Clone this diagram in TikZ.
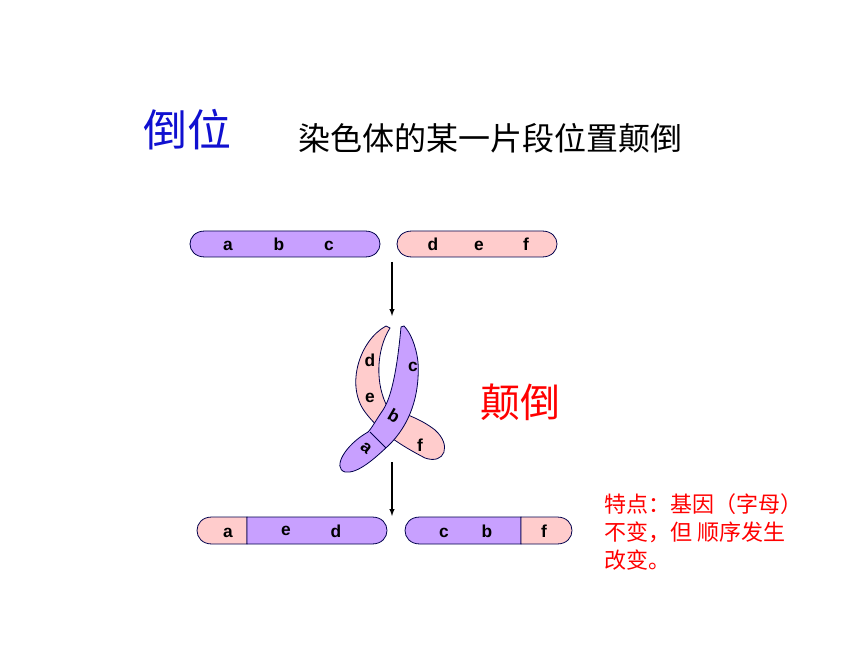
\documentclass[tikz,border=0pt]{standalone}
\usepackage{fontspec}
\setmainfont{Liberation Sans}
\newfontfamily\cjk{Noto Sans CJK SC}
\usetikzlibrary{shapes.misc}
\definecolor{pur}{HTML}{C8A0FF}
\definecolor{pnk}{HTML}{FFCCCC}
\definecolor{ttl}{HTML}{1010D0}
\begin{document}
\begin{tikzpicture}[x=0.75pt,y=-0.75pt,
  bar/.style={draw=black!70!blue,line width=0.6pt},
  let/.style={font=\bfseries\fontsize{13}{13}\selectfont,inner sep=0pt},
  arr/.style={-latex,line width=0.8pt}]
\useasboundingbox (0,0) rectangle (860,645);
% title
\node[ttl,font=\cjk\fontsize{33}{33}\selectfont] (t1) at (187,130) {倒位};
\node[font=\cjk\fontsize{24}{24}\selectfont] (t2) at (490,138) {染色体的某一片段位置颠倒};
\node[red,font=\cjk\fontsize{30}{30}\selectfont] (t3) at (520,402) {颠倒};
\node[red,font=\cjk\fontsize{16.5}{21}\selectfont,align=left,anchor=north west,inner sep=0pt] (t4) at (604,493) {特点：基因（字母）\\不变，但 顺序发生\\改变。};
% top bars
\path[bar,fill=pur] (205,231) -- (365,231) .. controls (385,231) and (385,257) .. (365,257) -- (205,257) .. controls (185,257) and (185,231) .. (205,231) -- cycle;
\path[bar,fill=pnk] (412,231) -- (542,231) .. controls (562,231) and (562,257) .. (542,257) -- (412,257) .. controls (392,257) and (392,231) .. (412,231) -- cycle;
\node[let] (la) at (228,246) {a};
\node[let] (lb) at (279,244) {b};
\node[let] (lc) at (329,246) {c};
\node[let] (ld) at (433,244) {d};
\node[let] (le) at (479,246) {e};
\node[let] (lf) at (526,244) {f};
% arrows
\coordinate (a1s) at (392,262); \coordinate (a1e) at (392,316);
\coordinate (a2s) at (392,462); \coordinate (a2e) at (392,516);
\draw[arr] (a1s) -- (a1e);
\draw[arr] (a2s) -- (a2e);
% loop: pink band
\path[bar,fill=pnk] (386,326) .. controls (360,340) and (345,385) .. (365,412)
  .. controls (380,432) and (400,445) .. (425,458)
  .. controls (445,465) and (452,445) .. (435,430)
  .. controls (420,418) and (400,412) .. (388,408)
  .. controls (375,385) and (376,350) .. (390,328) -- cycle;
% purple band
\path[bar,fill=pur] (401,327) .. controls (398,360) and (393,395) .. (383,410)
  .. controls (376,420) and (372,428) .. (368,432)
  .. controls (345,445) and (332,468) .. (345,472)
  .. controls (358,474) and (375,458) .. (388,446)
  .. controls (410,425) and (420,395) .. (418,362)
  .. controls (416,345) and (410,332) .. (404,326) -- cycle;
\draw[bar] (370,432) -- (386,448);
\node[let] (m1) at (370,360) {d};
\node[let] (m2) at (370,398) {e};
\node[let] (m3) at (413,367) {c};
\node[let,rotate=-30] (m4) at (394,416) {b};
\node[let,rotate=-40] (m5) at (366,448) {a};
\node[let] (m6) at (420,445) {f};
% bottom bars
\path[bar,fill=pnk] (247,517) -- (212,517) .. controls (192,517) and (192,544) .. (212,544) -- (247,544) -- cycle;
\path[bar,fill=pur] (247,517) -- (372,517) .. controls (392,517) and (392,544) .. (372,544) -- (247,544) -- cycle;
\path[bar,fill=pur] (521,517) -- (420,517) .. controls (400,517) and (400,544) .. (420,544) -- (521,544) -- cycle;
\path[bar,fill=pnk] (521,517) -- (557,517) .. controls (577,517) and (577,544) .. (557,544) -- (521,544) -- cycle;
\node[let] (ba) at (228,533) {a};
\node[let] (be) at (286,531) {e};
\node[let] (bd) at (336,531) {d};
\node[let] (bc) at (444,533) {c};
\node[let] (bb) at (487,531) {b};
\node[let] (bf) at (544,531) {f};
\end{tikzpicture}
\end{document}
